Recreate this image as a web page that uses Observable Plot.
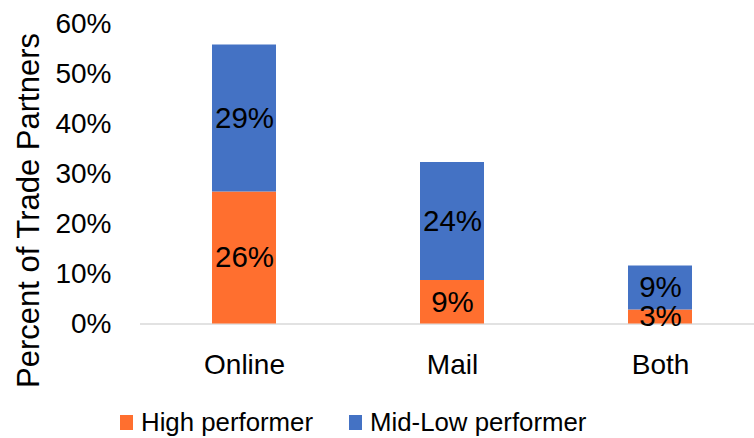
<!DOCTYPE html>
<html>
<head>
<meta charset="utf-8">
<script src="https://cdn.jsdelivr.net/npm/d3@7"></script>
<script src="https://cdn.jsdelivr.net/npm/@observablehq/plot@0.6"></script>
<style>
  html, body { margin: 0; padding: 0; background: #fff; }
  #chart svg { display: block; }
  #legend { position: relative; width: 754px; height: 43px; font-family: "Liberation Sans", Arial, sans-serif; font-size: 25.8px; color: #000; }
  .item { position: absolute; top: 12px; height: 30px; display: flex; align-items: center; }
  .sw { width: 13px; height: 15px; margin-right: 8px; }
</style>
</head>
<body>
<div id="chart"></div>
<div id="legend"></div>
<script>
const categories = ["Online", "Mail", "Both"];
const seriesNames = ["High performer", "Mid-Low performer"];
const highValues = [26.4, 8.7, 2.8];
const midLowValues = [29.4, 23.6, 8.8];
const yTicks = [0, 10, 20, 30, 40, 50, 60];
const colors = ["#FF6F2F", "#4472C4"];
const yLabel = "Percent of Trade Partners";

const data = [];
categories.forEach((c, i) => {
  data.push({cat: c, series: seriesNames[0], value: highValues[i]});
  data.push({cat: c, series: seriesNames[1], value: midLowValues[i]});
});

const font = '"Liberation Sans", Arial, sans-serif';

const plot = Plot.plot({
  width: 754,
  height: 395,
  marginLeft: 140,
  marginRight: 0,
  marginTop: 23.5,
  marginBottom: 71.5,
  style: {fontFamily: font, fontSize: "28px", color: "#000", background: "#fff"},
  x: {domain: categories, range: [140, 765], paddingInner: 0.69, paddingOuter: 0.345, label: null},
  y: {domain: [0, 60], label: null},
  color: {domain: seriesNames, range: colors},
  marks: [
    Plot.ruleY([0], {stroke: "#d9d9d9", strokeWidth: 1.5}),
    Plot.barY(data, Plot.stackY({x: "cat", y: "value", z: "series", fill: "series"})),
    Plot.text(data, Plot.stackY({x: "cat", y: "value", z: "series", text: d => Math.round(d.value) + "%", fill: "#000", fontSize: 29.5})),
    Plot.axisY(yTicks, {tickSize: 0, tickPadding: 29, tickFormat: d => d + "%", fontSize: 28, label: null}),
    Plot.axisX({tickSize: 0, tickPadding: 30, fontSize: 28, label: null}),
    Plot.text([yLabel], {frameAnchor: "left", rotate: -90, lineAnchor: "bottom", textAnchor: "middle", dx: -102, dy: 36.5, fontSize: 31, fill: "#000"})
  ]
});
document.getElementById("chart").appendChild(plot);

const legend = document.getElementById("legend");
const lefts = [120, 349];
seriesNames.forEach((s, i) => {
  const item = document.createElement("div");
  item.className = "item";
  item.style.left = lefts[i] + "px";
  const sw = document.createElement("div");
  sw.className = "sw";
  sw.style.background = colors[i];
  const t = document.createElement("span");
  t.textContent = s;
  item.appendChild(sw);
  item.appendChild(t);
  legend.appendChild(item);
});
</script>
</body>
</html>
